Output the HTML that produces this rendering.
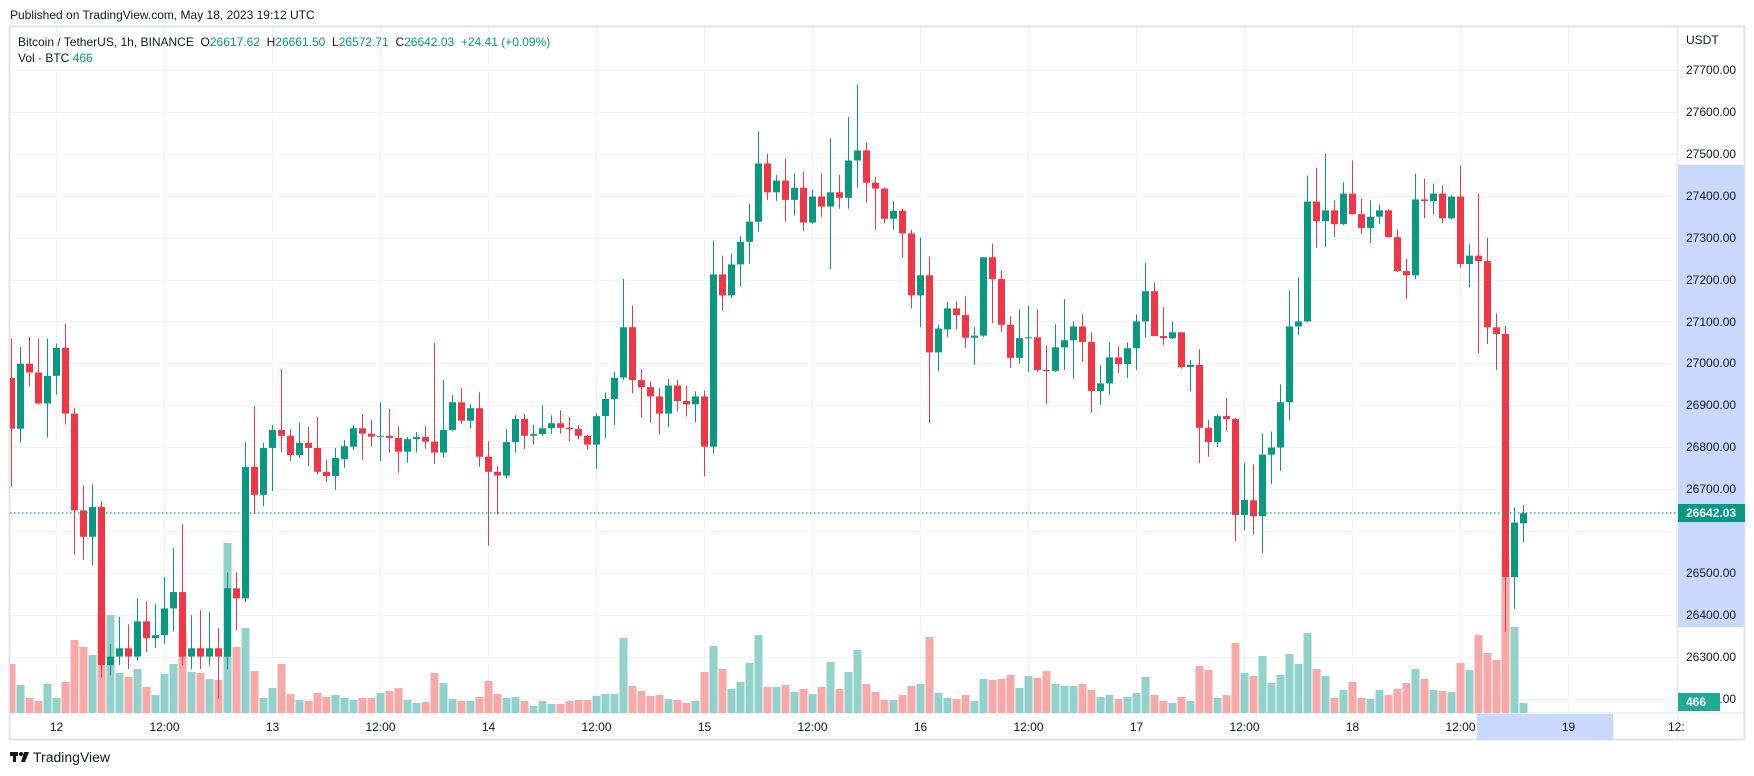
<!DOCTYPE html>
<html><head><meta charset="utf-8"><style>
html,body{margin:0;padding:0;background:#fff;width:1754px;height:776px;overflow:hidden}
svg{display:block;font-family:"Liberation Sans",sans-serif}
</style></head><body>
<svg id="s" width="1754" height="776" viewBox="0 0 1754 776" xmlns="http://www.w3.org/2000/svg">
<defs><clipPath id="pc"><rect x="10" y="27" width="1668" height="686"/></clipPath></defs>
<rect x="9.5" y="26.5" width="1735" height="713" fill="#fff" stroke="#e0e3eb" stroke-width="2"/>
<g id="grid" stroke="#f0f3fa" stroke-width="1"></g>
<line x1="1678" y1="27" x2="1678" y2="740" stroke="#e0e3eb"/>
<line x1="10" y1="713" x2="1744" y2="713" stroke="#e0e3eb"/>
<rect x="1678" y="165" width="66" height="462" fill="#c9d8fd"/>
<rect x="1477" y="714" width="136" height="26" fill="#c9d8fd"/>
<g id="vol" clip-path="url(#pc)"></g>
<g id="cdl" clip-path="url(#pc)"></g>
<line x1="10" y1="513" x2="1678" y2="513" stroke="#089981" stroke-width="1.3" stroke-dasharray="1.5,2.5"/>
<g font-size="12" fill="#131722">
<text x="1686" y="44">USDT</text>
<text x="1686" y="74">27700.00</text>
<text x="1686" y="116">27600.00</text>
<text x="1686" y="158">27500.00</text>
<text x="1686" y="200">27400.00</text>
<text x="1686" y="242">27300.00</text>
<text x="1686" y="284">27200.00</text>
<text x="1686" y="326">27100.00</text>
<text x="1686" y="367">27000.00</text>
<text x="1686" y="409">26900.00</text>
<text x="1686" y="451">26800.00</text>
<text x="1686" y="493">26700.00</text>
<text x="1686" y="577">26500.00</text>
<text x="1686" y="619">26400.00</text>
<text x="1686" y="661">26300.00</text>
<text x="1686" y="703">26200.00</text>
</g>
<rect x="1678" y="504" width="67" height="18" fill="#089981"/>
<text x="1686" y="517" font-size="12" fill="#fff" font-weight="bold">26642.03</text>
<rect x="1678" y="693" width="42" height="18" fill="#22ab94"/>
<text x="1686" y="706" font-size="12" fill="#fff" font-weight="bold">466</text>
<g font-size="12" fill="#131722" text-anchor="middle">
<text x="56.5" y="731">12</text><text x="164.5" y="731">12:00</text>
<text x="272.5" y="731">13</text><text x="380.5" y="731">12:00</text>
<text x="488.5" y="731">14</text><text x="596.5" y="731">12:00</text>
<text x="704.5" y="731">15</text><text x="812.5" y="731">12:00</text>
<text x="920.5" y="731">16</text><text x="1028.5" y="731">12:00</text>
<text x="1136.5" y="731">17</text><text x="1244.5" y="731">12:00</text>
<text x="1352.5" y="731">18</text><text x="1460.5" y="731">12:00</text>
<text x="1568.5" y="731">19</text><text x="1668" y="731" text-anchor="start">12:</text>
</g>
<text x="10" y="19" font-size="12" fill="#131722">Published on TradingView.com, May 18, 2023 19:12 UTC</text>
<text x="18" y="46" font-size="12" fill="#131722" xml:space="preserve">Bitcoin / TetherUS, 1h, BINANCE  <tspan>O</tspan><tspan fill="#089981">26617.62</tspan>  <tspan>H</tspan><tspan fill="#089981">26661.50</tspan>  <tspan>L</tspan><tspan fill="#089981">26572.71</tspan>  <tspan>C</tspan><tspan fill="#089981">26642.03</tspan>  <tspan fill="#089981">+24.41 (+0.09%)</tspan></text>
<text x="18" y="62" font-size="12" fill="#131722">Vol · BTC <tspan fill="#089981">466</tspan></text>
<g fill="#131722"><rect x="10" y="752" width="8" height="4"/><rect x="13" y="752" width="3" height="10"/><circle cx="21" cy="754" r="2"/><path d="M24 752h5l-4 10h-4z"/></g>
<text x="33" y="762" font-size="14" fill="#131722">TradingView</text>
</svg>
<script>
var D=[[26965,27059,26705,26844],[26844,27039,26811,26999],[26999,27063,26945,26978],[26978,27059,26902,26904],[26904,27059,26823,26970],
[26970,27047,26925,27037],[27037,27094,26854,26880],[26880,26894,26543,26649],[26649,26709,26531,26586],[26586,26711,26517,26657],
[26657,26671,26250,26280],[26280,26330,26255,26300],[26300,26395,26280,26320],[26320,26377,26270,26300],[26300,26439,26290,26384],
[26384,26432,26310,26344],[26344,26425,26320,26351],[26351,26490,26330,26415],[26415,26559,26360,26454],[26454,26616,26280,26300],
[26300,26399,26270,26320],[26320,26411,26270,26300],[26300,26406,26280,26320],[26320,26368,26200,26300],[26300,26501,26270,26463],
[26463,26501,26363,26439],[26439,26812,26430,26753],[26753,26898,26640,26686],[26686,26810,26659,26798],[26798,26853,26695,26841],
[26841,26987,26788,26827],[26827,26843,26767,26781],[26781,26858,26774,26810],[26810,26848,26755,26798],[26798,26872,26735,26741],
[26741,26769,26717,26731],[26731,26798,26698,26774],[26771,26817,26751,26802],[26801,26853,26793,26845],[26845,26879,26769,26832],
[26832,26865,26801,26825],[26825,26907,26767,26827],[26827,26891,26787,26822],[26822,26850,26739,26789],[26789,26824,26763,26819],
[26819,26836,26787,26824],[26824,26850,26796,26813],[26813,27048,26760,26787],[26787,26960,26775,26841],[26841,26924,26838,26907],
[26907,26941,26856,26863],[26863,26903,26844,26893],[26893,26931,26753,26777],[26777,26814,26565,26741],[26741,26755,26639,26732],
[26732,26843,26725,26812],[26812,26876,26787,26867],[26867,26879,26796,26827],[26827,26853,26806,26831],[26831,26900,26827,26845],
[26845,26876,26832,26857],[26857,26888,26832,26846],[26846,26872,26813,26843],[26843,26853,26818,26827],[26827,26829,26794,26806],
[26806,26881,26748,26874],[26874,26931,26822,26915],[26915,26979,26853,26965],
[26966,27202,26960,27086],[27086,27138,26928,26960],[26960,26986,26870,26943],[26943,26957,26859,26921],[26921,26942,26830,26880],
[26880,26963,26848,26947],[26947,26961,26885,26910],[26910,26947,26873,26902],[26902,26933,26859,26921],[26921,26935,26730,26801],
[26801,27293,26785,27212],[27212,27257,27126,27162],[27162,27262,27155,27236],[27236,27303,27183,27290],[27290,27381,27237,27338],
[27338,27553,27314,27477],[27477,27500,27390,27408],[27408,27450,27388,27436],[27436,27488,27338,27390],[27390,27453,27353,27419],
[27419,27458,27316,27336],[27336,27414,27334,27398],[27398,27453,27350,27374],[27374,27537,27225,27408],[27408,27450,27369,27395],
[27395,27588,27369,27484],[27484,27665,27419,27508],[27508,27527,27384,27431],[27431,27445,27319,27417],[27417,27419,27334,27345],
[27345,27388,27319,27364],[27364,27369,27252,27310],[27310,27319,27131,27162],[27162,27300,27086,27210],[27210,27255,26857,27026],
[27026,27092,26981,27083],
[27081,27146,27063,27131],[27131,27148,27082,27115],[27115,27160,27037,27061],[27061,27086,26996,27066],[27066,27253,27063,27253],
[27253,27286,27096,27201],[27201,27222,27075,27092],[27092,27112,26989,27013],[27013,27129,26999,27060],[27060,27138,26979,27062],
[27062,27129,26979,26984],[26984,27043,26903,26982],[26982,27093,26980,27038],[27038,27153,26984,27055],[27055,27100,26963,27088],
[27088,27117,27003,27051],[27051,27074,26882,26934],[26934,26996,26901,26952],[26952,27050,26925,27014],[27014,27041,26977,26998],
[26998,27050,26965,27036],[27036,27117,26984,27100],[27100,27239,27061,27172],[27172,27193,27065,27065],[27065,27134,27044,27060],
[27060,27100,27058,27074],[27074,27074,26987,26991],[26991,27008,26934,26996],[26996,27034,26762,26846],[26846,26865,26777,26812],
[26812,26879,26800,26874],[26874,26917,26839,26867],[26867,26869,26576,26638],[26638,26762,26602,26674],
[26673,26759,26592,26635],[26635,26832,26547,26782],[26782,26837,26712,26799],[26799,26950,26743,26907],[26907,27174,26864,27088],
[27088,27205,27067,27100],[27100,27448,27098,27386],[27386,27467,27275,27339],[27339,27500,27277,27365],[27365,27389,27301,27332],
[27332,27432,27330,27405],[27405,27484,27355,27356],[27356,27393,27308,27323],[27323,27389,27287,27350],[27350,27379,27332,27365],
[27365,27367,27301,27301],[27301,27319,27218,27220],[27220,27250,27153,27210],[27210,27453,27201,27391],[27391,27441,27346,27387],
[27387,27429,27356,27405],[27405,27424,27334,27346],[27346,27401,27344,27398],[27398,27472,27227,27237],[27237,27284,27182,27257],
[27257,27405,27024,27244],[27244,27300,27046,27086],[27086,27119,26984,27070],[27070,27090,26360,26490],[26490,26656,26413,26620],
[26618,26662,26573,26642]];
var V=[49,28,15,12,29,15,31,73,66,58,101,98,40,36,44,26,18,39,49,79,41,40,34,33,170,66,85,42,15,25,49,
19,13,12,20,16,18,15,13,15,15,20,22,25,13,10,11,40,30,14,12,12,16,32,19,15,16,12,7,12,9,9,12,13,13,17,19,19,
75,27,22,17,18,14,13,10,12,41,67,44,24,31,50,78,26,26,28,21,24,19,26,51,24,41,63,29,21,13,13,18,27,29,76,20,
15,14,18,12,34,33,34,38,25,37,35,42,29,27,27,29,23,16,18,14,16,20,36,18,12,10,16,12,47,43,15,18,70,40,37,57,30,38,59,49,80,44,37,15,23,31,15,14,23,18,24,30,44,34,23,22,21,50,43,78,60,53,158,86,10];
var NS="http://www.w3.org/2000/svg";
function el(p,t,a){var e=document.createElementNS(NS,t);for(var k in a)e.setAttribute(k,a[k]);p.appendChild(e);return e;}
function Y(p){return 70+(27700-p)*0.419;}
var g=document.getElementById('grid');
for(var p=27700;p>=26200;p-=100){var y=Math.round(Y(p))+0.5;el(g,'line',{x1:10,x2:1678,y1:y,y2:y});}
for(var k=0;k<16;k++){var x=56.5+108*k;if(x<1678)el(g,'line',{x1:x,x2:x,y1:27,y2:713});}
var vg=document.getElementById('vol'),cg=document.getElementById('cdl');
for(var i=0;i<D.length;i++){var h=i-5,cx=56.5+9*h,d=D[i],up=d[3]>=d[0];
 var v=V[i]||10;el(vg,'rect',{x:cx-4,y:713-v,width:8,height:v,fill:up?'#92d2cc':'#f7a9a8'});
 var col=up?'#089981':'#f23645';
 el(cg,'rect',{x:cx-0.5,y:Y(d[1]),width:1,height:Math.max(1,Y(d[2])-Y(d[1])),fill:col});
 var t=Y(Math.max(d[0],d[3])),b=Y(Math.min(d[0],d[3]));
 el(cg,'rect',{x:cx-3.5,y:t,width:7,height:Math.max(1,b-t),fill:col});}
</script>
</body></html>
